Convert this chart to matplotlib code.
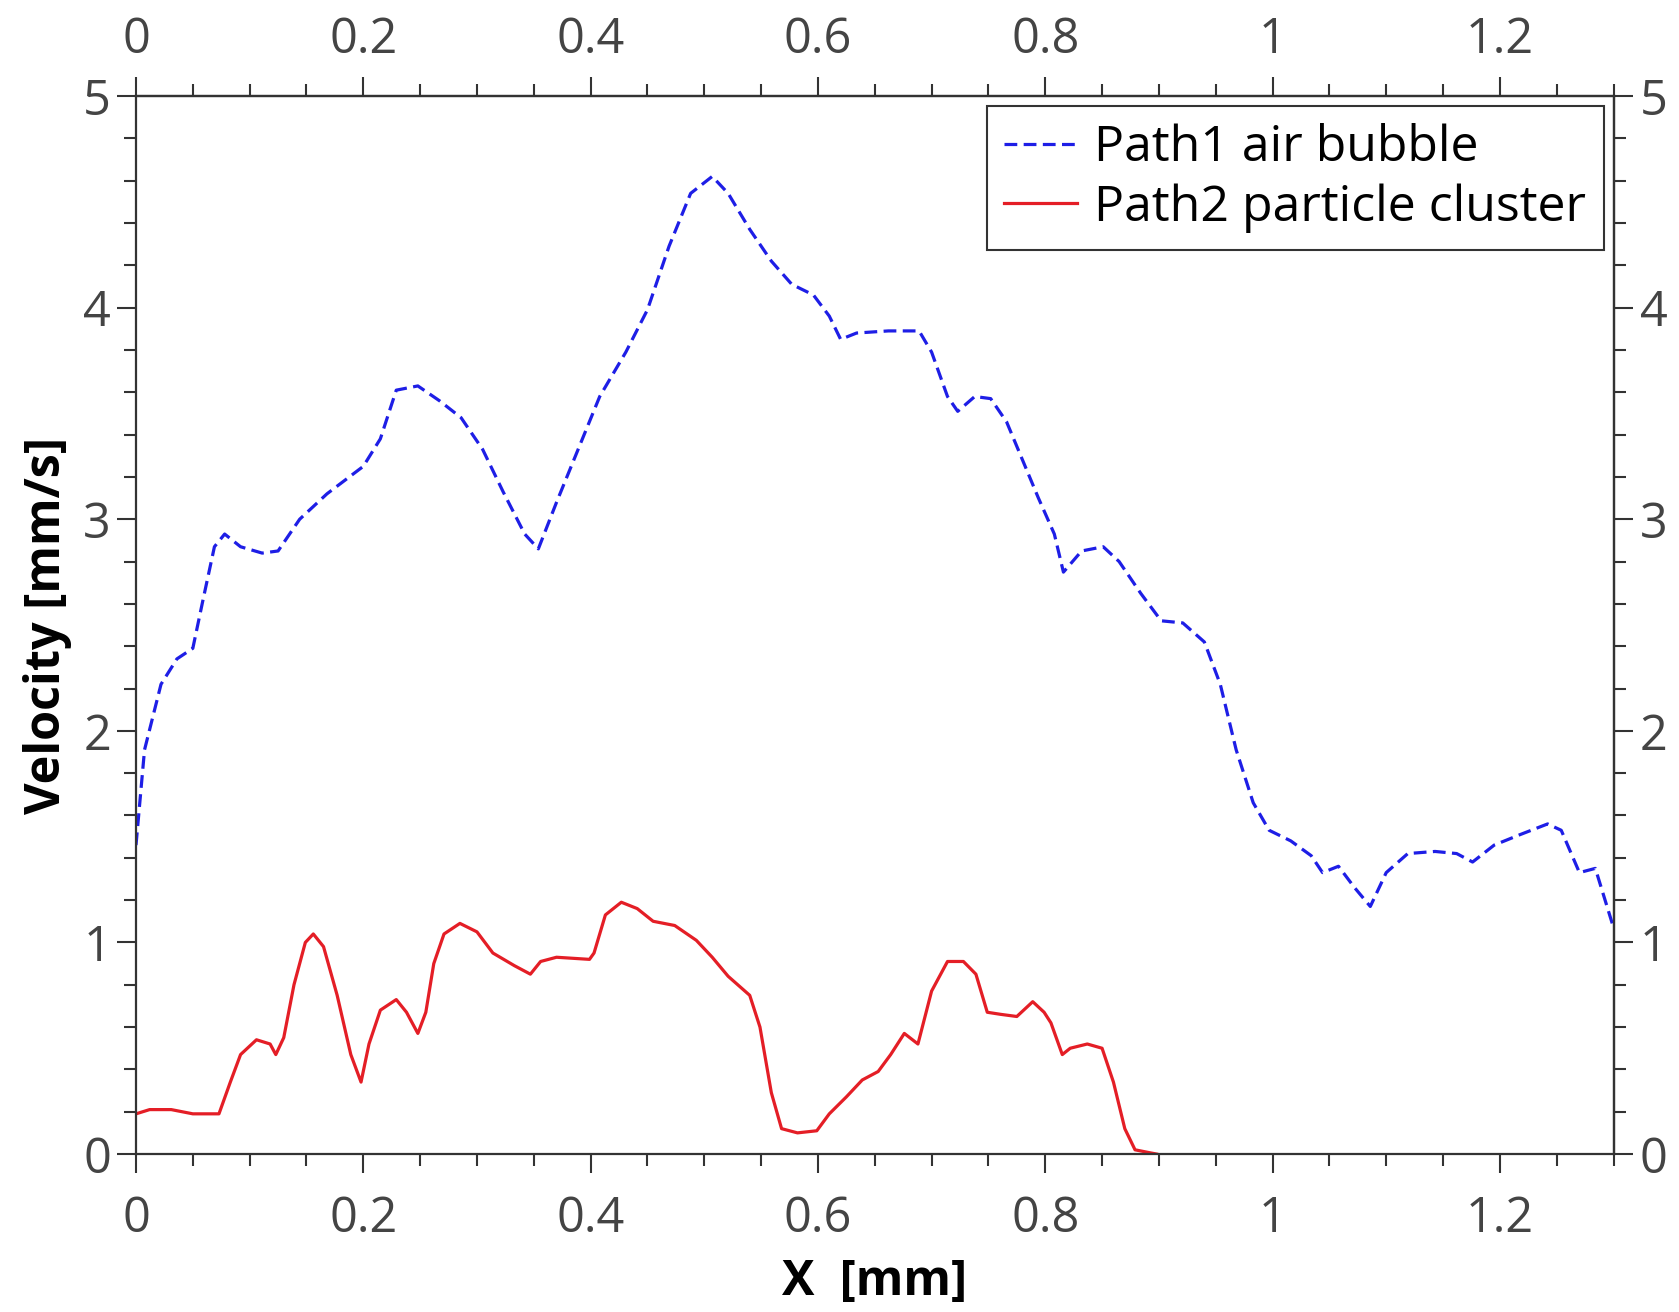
import numpy as np
import matplotlib.pyplot as plt
from matplotlib.ticker import MultipleLocator, FuncFormatter

plt.rcParams['font.family'] = ['Open Sans', 'DejaVu Sans']

# Path1 air bubble (blue, dashed)
x_bubble = [0.0, 0.0075, 0.022, 0.036, 0.05, 0.059, 0.069, 0.078, 0.092, 0.111,
            0.125, 0.144, 0.168, 0.2, 0.215, 0.229, 0.248, 0.267, 0.286, 0.305,
            0.323, 0.342, 0.354, 0.37, 0.389, 0.408, 0.431, 0.45, 0.469, 0.488,
            0.507, 0.521, 0.54, 0.559, 0.577, 0.596, 0.61, 0.62, 0.634, 0.662,
            0.689, 0.7, 0.714, 0.723, 0.738, 0.752, 0.766, 0.78, 0.794, 0.808,
            0.816, 0.832, 0.851, 0.865, 0.884, 0.902, 0.921, 0.94, 0.954, 0.968,
            0.983, 0.997, 1.016, 1.034, 1.044, 1.058, 1.072, 1.086, 1.1, 1.119,
            1.143, 1.162, 1.176, 1.195, 1.218, 1.242, 1.254, 1.27, 1.284, 1.3]
v_bubble = [1.46, 1.91, 2.22, 2.34, 2.39, 2.62, 2.87, 2.93, 2.87, 2.84,
            2.85, 3.0, 3.12, 3.25, 3.38, 3.61, 3.63, 3.56, 3.48, 3.33,
            3.13, 2.93, 2.86, 3.08, 3.33, 3.58, 3.79, 3.99, 4.29, 4.54,
            4.62, 4.54, 4.37, 4.22, 4.11, 4.06, 3.96, 3.85, 3.88, 3.89,
            3.89, 3.79, 3.58, 3.51, 3.58, 3.57, 3.46, 3.28, 3.10, 2.93,
            2.75, 2.85, 2.87, 2.80, 2.65, 2.52, 2.51, 2.42, 2.22, 1.91,
            1.66, 1.53, 1.48, 1.41, 1.33, 1.36, 1.26, 1.17, 1.33, 1.42,
            1.43, 1.42, 1.38, 1.46, 1.51, 1.56, 1.53, 1.33, 1.35, 1.07]

# Path2 particle cluster (red, solid)
x_cluster = [0.0, 0.012, 0.031, 0.05, 0.073, 0.083, 0.092, 0.106, 0.118, 0.123,
             0.13, 0.139, 0.149, 0.156, 0.165, 0.177, 0.189, 0.198, 0.205, 0.215,
             0.229, 0.238, 0.248, 0.255, 0.262, 0.271, 0.285, 0.3, 0.314, 0.333,
             0.347, 0.356, 0.37, 0.399, 0.403, 0.413, 0.427, 0.441, 0.455, 0.474,
             0.493, 0.507, 0.521, 0.54, 0.549, 0.559, 0.568, 0.582, 0.599, 0.61,
             0.625, 0.639, 0.653, 0.664, 0.676, 0.688, 0.7, 0.714, 0.728, 0.739,
             0.749, 0.761, 0.775, 0.789, 0.799, 0.805, 0.815, 0.822, 0.837, 0.85,
             0.86, 0.87, 0.879, 0.893, 0.898]
v_cluster = [0.19, 0.21, 0.21, 0.19, 0.19, 0.34, 0.47, 0.54, 0.52, 0.47,
             0.55, 0.80, 1.0, 1.04, 0.98, 0.75, 0.47, 0.34, 0.52, 0.68,
             0.73, 0.67, 0.57, 0.67, 0.90, 1.04, 1.09, 1.05, 0.95, 0.89,
             0.85, 0.91, 0.93, 0.92, 0.95, 1.13, 1.19, 1.16, 1.10, 1.08,
             1.01, 0.93, 0.84, 0.75, 0.60, 0.29, 0.12, 0.10, 0.11, 0.19,
             0.27, 0.35, 0.39, 0.47, 0.57, 0.52, 0.77, 0.91, 0.91, 0.85,
             0.67, 0.66, 0.65, 0.72, 0.67, 0.62, 0.47, 0.50, 0.52, 0.50,
             0.34, 0.12, 0.02, 0.005, 0.0]

fig = plt.figure(figsize=(16.79, 13.12), dpi=100)
ax = fig.add_axes([0.081, 0.1204, 0.880, 0.8064])

ax.plot(x_bubble, v_bubble, color='#1e1ee6', lw=2.3, dashes=(4, 2),
        label='Path1 air bubble')
ax.plot(x_cluster, v_cluster, color='#e41e26', lw=2.3,
        label='Path2 particle cluster')

ax.set_xlim(0, 1.3)
ax.set_ylim(0, 5)
fmt = FuncFormatter(lambda v, p: '%g' % round(v, 3))

top = ax.secondary_xaxis('top')
right = ax.secondary_yaxis('right')
for a in (ax.xaxis, top.xaxis):
    a.set_major_locator(MultipleLocator(0.2))
    a.set_minor_locator(MultipleLocator(0.05))
    a.set_major_formatter(fmt)
for a in (ax.yaxis, right.yaxis):
    a.set_major_locator(MultipleLocator(1))
    a.set_minor_locator(MultipleLocator(0.2))
    a.set_major_formatter(fmt)

for a, pad in ((ax, None), (top, 8), (right, 5)):
    a.tick_params(which='both', direction='out', colors='#333333',
                  labelcolor='#444444', width=1.5)
    a.tick_params(which='major', length=14, labelsize=35)
    a.tick_params(which='minor', length=8.5)
    if pad is not None:
        a.tick_params(which='major', pad=pad)
ax.tick_params(axis='x', which='major', pad=15)
ax.tick_params(axis='y', which='major', pad=4)

for a in (ax, top, right):
    for s in a.spines.values():
        s.set_linewidth(1.6)
        s.set_color('#333333')

ax.set_xlabel('X  [mm]', fontsize=35, fontweight='bold', labelpad=10)
ax.set_ylabel('Velocity [mm/s]', fontsize=35, fontweight='bold', labelpad=8)

leg = ax.legend(loc='upper right', fontsize=36, fancybox=False, framealpha=1,
                edgecolor='#333333', handlelength=1.45, handletextpad=0.35,
                labelspacing=0.2, borderaxespad=0.2, borderpad=0.35)
leg.get_frame().set_linewidth(1.5)

fig.savefig('out.png', dpi=100)
